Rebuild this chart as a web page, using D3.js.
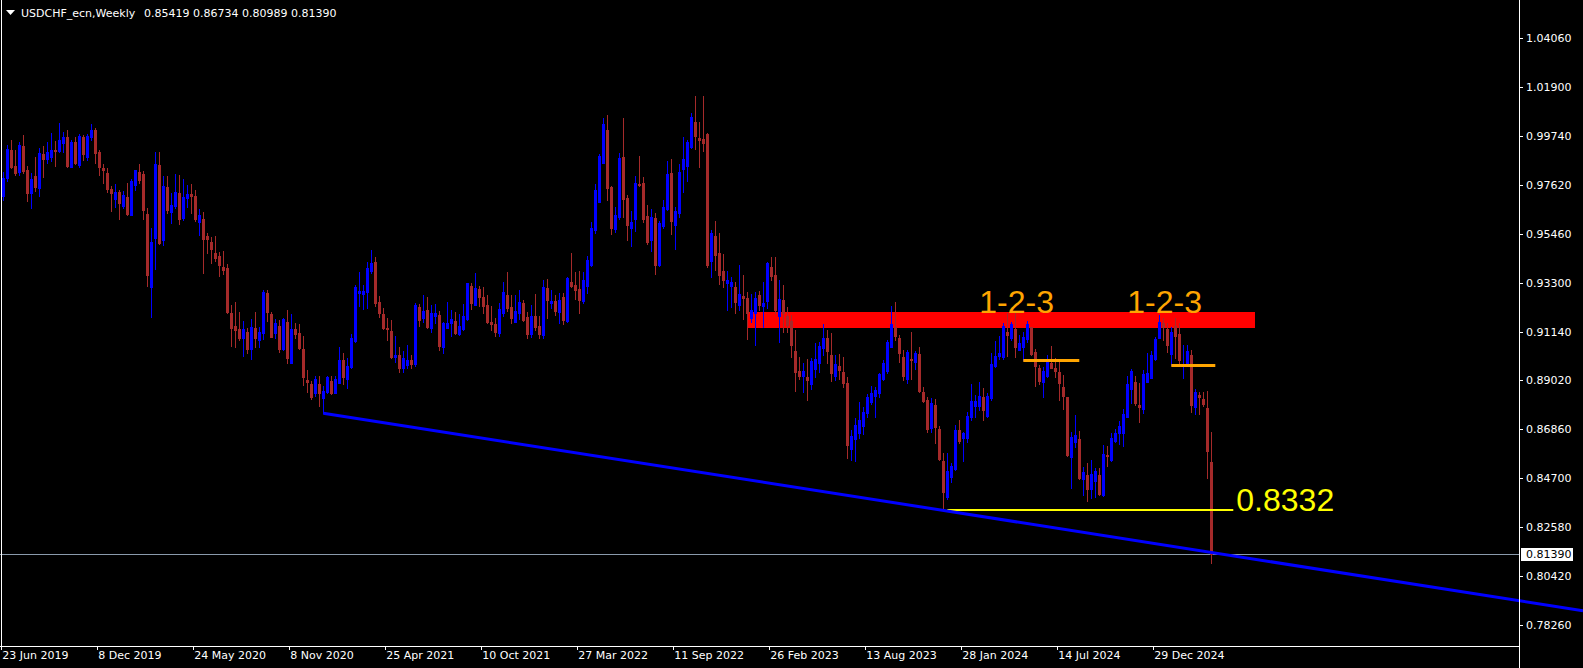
<!DOCTYPE html>
<html><head><meta charset="utf-8">
<script src="https://cdn.jsdelivr.net/npm/d3@7"></script>
<style>
html,body{margin:0;padding:0;background:#000;overflow:hidden}
svg{display:block}
</style></head><body>
<svg id="c" width="1583" height="668"></svg>
<script>
// ---------------- DATA ----------------
const symbolTitle = "USDCHF_ecn,Weekly";
const headerValues = ["0.85419", "0.86734", "0.80989", "0.81390"];
const firstWeek = "2019-06-23";   // weekly bars, one per week from this Sunday
const opens = [
0.9712,0.9792,0.9914,0.9844,0.9818,0.9931,0.9826,0.9726,0.9800,0.9747,
0.9896,0.9873,0.9883,0.9914,0.9910,0.9943,0.9970,0.9840,0.9949,0.9848,
0.9970,0.9884,0.9972,1.0002,0.9905,0.9833,0.9814,0.9742,0.9699,0.9729,
0.9668,0.9709,0.9628,0.9760,0.9818,0.9810,0.9633,0.9313,0.9528,0.9848,
0.9518,0.9753,0.9643,0.9668,0.9726,0.9614,0.9704,0.9720,0.9712,0.9599,
0.9611,0.9536,0.9509,0.9460,0.9448,0.9401,0.9395,0.9197,0.9140,0.9126,
0.9089,0.9115,0.9038,0.9133,0.9079,0.9108,0.9284,0.9193,0.9111,0.9140,
0.9039,0.9159,0.8979,0.9127,0.9108,0.9039,0.8903,0.8885,0.8844,0.8885,
0.8825,0.8851,0.8898,0.8844,0.8891,0.8991,0.8906,0.8959,0.9074,0.9284,
0.9280,0.9291,0.9383,0.9420,0.9247,0.9193,0.9133,0.9120,0.9003,0.9013,
0.8956,0.8969,0.8991,0.8973,0.9225,0.9177,0.9211,0.9133,0.9184,0.9189,
0.9047,0.9133,0.9152,0.9162,0.9105,0.9126,0.9170,0.9316,0.9233,0.9303,
0.9269,0.9233,0.9159,0.9149,0.9109,0.9199,0.9276,0.9225,0.9159,0.9196,
0.9243,0.9181,0.9105,0.9184,0.9140,0.9101,0.9307,0.9240,0.9250,0.9202,
0.9269,0.9162,0.9335,0.9320,0.9303,0.9250,0.9317,0.9408,0.9562,0.9687,
0.9858,1.0002,0.9750,0.9567,0.9621,0.9882,0.9704,0.9572,0.9609,0.9764,
0.9768,0.9624,0.9518,0.9614,0.9408,0.9581,0.9655,0.9811,0.9584,0.9638,
0.9829,0.9845,0.9928,1.0036,0.9968,0.9962,0.9984,0.9426,0.9536,0.9460,
0.9382,0.9328,0.9316,0.9313,0.9233,0.9273,0.9262,0.9174,0.9199,0.9276,
0.9229,0.9250,0.9401,0.9364,0.9185,0.9255,0.9184,0.9162,0.9030,0.8942,
0.8920,0.8917,0.8885,0.8951,0.8976,0.9045,0.9089,0.9013,0.8922,0.8966,
0.8937,0.8888,0.8598,0.8642,0.8671,0.8702,0.8757,0.8808,0.8833,0.8847,
0.8906,0.8944,0.9049,0.9137,0.9086,0.9003,0.8906,0.8995,0.8983,0.9017,
0.8851,0.8815,0.8693,0.8793,0.8686,0.8547,0.8390,0.8478,0.8510,0.8683,
0.8646,0.8649,0.8742,0.8789,0.8789,0.8830,0.8746,0.8825,0.8964,0.9008,
0.9005,0.9115,0.9086,0.9126,0.9035,0.9049,0.9082,0.9134,0.9025,0.8954,
0.8895,0.8920,0.8976,0.8954,0.8939,0.8871,0.8827,0.8566,0.8632,0.8644,
0.8468,0.8485,0.8424,0.8459,0.8485,0.8397,0.8573,0.8551,0.8635,0.8671,
0.8669,0.8742,0.8863,0.8894,0.8793,0.8774,0.8895,0.8913,0.8995,0.9089,
0.9155,0.9126,0.9016,0.9142,0.9104,0.8969,0.8972,0.9013,0.8786,0.8837,
0.8819,0.8779,0.85419];
const highs = [
0.9818,0.9936,0.9958,0.9914,0.9948,0.9980,0.9844,0.9811,0.9884,0.9921,
0.9931,0.9949,0.9987,0.9953,1.0031,0.9993,1.0002,0.9958,0.9972,0.9984,
0.9981,0.9984,1.0028,1.0009,0.9914,0.9852,0.9833,0.9756,0.9764,0.9738,
0.9734,0.9770,0.9785,0.9826,0.9852,0.9822,0.9658,0.9572,0.9905,0.9905,
0.9800,0.9800,0.9726,0.9808,0.9804,0.9785,0.9759,0.9764,0.9738,0.9655,
0.9640,0.9550,0.9533,0.9536,0.9467,0.9470,0.9413,0.9233,0.9246,0.9202,
0.9162,0.9133,0.9170,0.9203,0.9137,0.9298,0.9298,0.9202,0.9170,0.9167,
0.9177,0.9211,0.9193,0.9152,0.9149,0.9096,0.8947,0.8898,0.8922,0.8920,
0.8876,0.8922,0.8920,0.8922,0.9049,0.9023,0.8998,0.9105,0.9320,0.9379,
0.9320,0.9420,0.9474,0.9442,0.9272,0.9221,0.9174,0.9167,0.9096,0.9049,
0.9030,0.9057,0.9013,0.9243,0.9236,0.9276,0.9266,0.9233,0.9237,0.9206,
0.9159,0.9247,0.9211,0.9200,0.9193,0.9236,0.9331,0.9331,0.9372,0.9316,
0.9313,0.9276,0.9228,0.9175,0.9241,0.9335,0.9379,0.9276,0.9276,0.9298,
0.9255,0.9203,0.9233,0.9281,0.9184,0.9342,0.9347,0.9298,0.9276,0.9287,
0.9284,0.9354,0.9460,0.9376,0.9381,0.9376,0.9448,0.9596,0.9764,0.9896,
1.0053,1.0068,0.9756,0.9662,0.9899,1.0056,0.9716,0.9646,0.9800,0.9888,
0.9794,0.9672,0.9653,0.9638,0.9603,0.9694,0.9866,0.9874,0.9665,0.9851,
0.9972,0.9958,1.0078,1.0151,1.0038,1.0151,0.9990,0.9562,0.9603,0.9548,
0.9457,0.9383,0.9354,0.9335,0.9408,0.9364,0.9288,0.9281,0.9291,0.9294,
0.9335,0.9420,0.9442,0.9442,0.9342,0.9320,0.9222,0.9189,0.9123,0.9005,
0.8976,0.8994,0.8998,0.9064,0.9071,0.9148,0.9123,0.9108,0.9013,0.9017,
0.9003,0.8917,0.8683,0.8737,0.8808,0.8786,0.8841,0.8876,0.8871,0.8935,
0.8991,0.9079,0.9228,0.9244,0.9101,0.9035,0.9035,0.9113,0.9032,0.9049,
0.8873,0.8830,0.8822,0.8818,0.8701,0.8583,0.8581,0.8539,0.8705,0.8727,
0.8676,0.8761,0.8885,0.8837,0.8893,0.8866,0.8847,0.9020,0.9074,0.9096,
0.9152,0.9196,0.9159,0.9196,0.9101,0.9115,0.9164,0.9137,0.9038,0.8969,
0.8961,0.9013,0.9052,0.9001,0.8983,0.8925,0.8830,0.8673,0.8749,0.8679,
0.8520,0.8539,0.8551,0.8517,0.8517,0.8616,0.8613,0.8669,0.8686,0.8724,
0.8774,0.8920,0.8950,0.8920,0.8888,0.8947,0.9020,0.9030,0.9093,0.9189,
0.9174,0.9153,0.9137,0.9174,0.9153,0.9057,0.9057,0.9035,0.8862,0.8851,
0.8849,0.8856,0.86734];
const lows = [
0.9694,0.9778,0.9833,0.9804,0.9804,0.9811,0.9691,0.9660,0.9734,0.9713,
0.9797,0.9855,0.9866,0.9844,0.9906,0.9906,0.9840,0.9838,0.9852,0.9840,
0.9870,0.9870,0.9958,0.9858,0.9804,0.9770,0.9731,0.9646,0.9665,0.9611,
0.9660,0.9628,0.9626,0.9738,0.9768,0.9609,0.9316,0.9181,0.9389,0.9501,
0.9496,0.9636,0.9594,0.9658,0.9589,0.9606,0.9662,0.9638,0.9603,0.9540,
0.9372,0.9462,0.9418,0.9427,0.9361,0.9369,0.9199,0.9052,0.9049,0.9079,
0.9008,0.9023,0.8995,0.9049,0.9049,0.9083,0.9162,0.9092,0.9086,0.9027,
0.9035,0.8979,0.8978,0.9086,0.9038,0.8881,0.8851,0.8819,0.8833,0.8790,
0.8757,0.8844,0.8840,0.8844,0.8890,0.8885,0.8869,0.8954,0.9071,0.9228,
0.9214,0.9218,0.9372,0.9229,0.9178,0.9126,0.9079,0.8998,0.8982,0.8938,
0.8938,0.8956,0.8956,0.8964,0.9142,0.9159,0.9131,0.9113,0.9152,0.9035,
0.9020,0.9130,0.9096,0.9104,0.9101,0.9123,0.9167,0.9215,0.9231,0.9229,
0.9196,0.9152,0.9123,0.9096,0.9096,0.9184,0.9207,0.9155,0.9157,0.9171,
0.9162,0.9087,0.9092,0.9123,0.9087,0.9087,0.9174,0.9218,0.9189,0.9152,
0.9149,0.9160,0.9313,0.9258,0.9196,0.9240,0.9287,0.9406,0.9548,0.9685,
0.9857,0.9694,0.9545,0.9555,0.9609,0.9621,0.9518,0.9493,0.9558,0.9756,
0.9599,0.9501,0.9471,0.9369,0.9404,0.9572,0.9650,0.9545,0.9479,0.9621,
0.9731,0.9779,0.9921,0.9918,0.9840,0.9911,0.9398,0.9357,0.9386,0.9325,
0.9313,0.9211,0.9222,0.9199,0.9211,0.9170,0.9083,0.9159,0.9057,0.9211,
0.9137,0.9221,0.9342,0.9199,0.9071,0.9115,0.9115,0.9005,0.8855,0.8906,
0.8851,0.8815,0.8863,0.8917,0.8939,0.9013,0.8976,0.8900,0.8903,0.8907,
0.8873,0.8561,0.8551,0.8547,0.8647,0.8666,0.8742,0.8797,0.8742,0.8830,
0.8903,0.8932,0.9047,0.9079,0.8983,0.8903,0.8888,0.8906,0.8950,0.8851,
0.8808,0.8676,0.8676,0.8625,0.8551,0.8333,0.8378,0.8456,0.8507,0.8627,
0.8547,0.8632,0.8727,0.8742,0.8771,0.8727,0.8742,0.8815,0.8961,0.8994,
0.8994,0.9008,0.9079,0.9005,0.9033,0.8991,0.9071,0.9013,0.8876,0.8884,
0.8827,0.8917,0.8954,0.8917,0.8815,0.8775,0.8569,0.8430,0.8610,0.8468,
0.8397,0.8372,0.8383,0.8387,0.8397,0.8394,0.8526,0.8549,0.8632,0.8622,
0.8614,0.8740,0.8800,0.8793,0.8720,0.8757,0.8893,0.8910,0.8991,0.9086,
0.9079,0.9027,0.8969,0.8998,0.8969,0.8910,0.8969,0.8764,0.8753,0.8753,
0.8789,0.8473,0.80989];
const closes = [
0.9791,0.9917,0.9840,0.9814,0.9936,0.9822,0.9726,0.9786,0.9753,0.9899,
0.9876,0.9905,0.9914,0.9911,0.9958,0.9970,0.9844,0.9949,0.9855,0.9975,
0.9896,0.9975,1.0002,0.9902,0.9840,0.9826,0.9744,0.9726,0.9729,0.9682,
0.9716,0.9633,0.9778,0.9826,0.9782,0.9650,0.9364,0.9511,0.9852,0.9504,
0.9756,0.9650,0.9672,0.9729,0.9611,0.9706,0.9720,0.9712,0.9609,0.9628,
0.9523,0.9523,0.9479,0.9439,0.9408,0.9386,0.9203,0.9133,0.9123,0.9087,
0.9126,0.9039,0.9137,0.9089,0.9115,0.9291,0.9202,0.9093,0.9152,0.9039,
0.9171,0.9001,0.9127,0.9105,0.9042,0.8917,0.8895,0.8830,0.8906,0.8844,
0.8854,0.8915,0.8847,0.8907,0.8991,0.8917,0.8964,0.9089,0.9310,0.9294,
0.9294,0.9397,0.9416,0.9243,0.9199,0.9130,0.9127,0.9003,0.9013,0.8956,
0.9001,0.8991,0.8973,0.9233,0.9167,0.9206,0.9134,0.9199,0.9196,0.9052,
0.9152,0.9152,0.9170,0.9108,0.9140,0.9184,0.9328,0.9240,0.9309,0.9269,
0.9229,0.9159,0.9149,0.9114,0.9214,0.9288,0.9218,0.9177,0.9206,0.9246,
0.9167,0.9105,0.9184,0.9134,0.9105,0.9310,0.9255,0.9251,0.9207,0.9255,
0.9167,0.9350,0.9316,0.9298,0.9255,0.9342,0.9430,0.9572,0.9738,0.9888,
1.0028,0.9748,0.9572,0.9628,0.9880,0.9699,0.9584,0.9596,0.9768,0.9759,
0.9611,0.9511,0.9618,0.9408,0.9592,0.9662,0.9808,0.9603,0.9646,0.9816,
0.9873,0.9950,1.0058,0.9977,0.9958,0.9943,0.9408,0.9548,0.9452,0.9364,
0.9342,0.9342,0.9335,0.9247,0.9281,0.9262,0.9199,0.9211,0.9262,0.9233,
0.9240,0.9416,0.9360,0.9211,0.9258,0.9196,0.9145,0.9057,0.8939,0.8920,
0.8942,0.8903,0.8986,0.8995,0.9052,0.9089,0.9030,0.8935,0.8973,0.8947,
0.8891,0.8617,0.8657,0.8705,0.8727,0.8764,0.8827,0.8844,0.8859,0.8929,
0.8976,0.9071,0.9149,0.9096,0.9023,0.8922,0.9027,0.8991,0.9020,0.8855,
0.8812,0.8688,0.8800,0.8698,0.8556,0.8412,0.8503,0.8526,0.8683,0.8635,
0.8670,0.8746,0.8812,0.8811,0.8833,0.8771,0.8834,0.8972,0.9008,0.9020,
0.9142,0.9101,0.9148,0.9049,0.9064,0.9093,0.9149,0.9017,0.8966,0.8898,
0.8944,0.8983,0.8957,0.8944,0.8888,0.8833,0.8573,0.8651,0.8661,0.8473,
0.8499,0.8424,0.8490,0.8503,0.8400,0.8578,0.8570,0.8647,0.8669,0.8701,
0.8753,0.8885,0.8942,0.8800,0.8786,0.8929,0.8935,0.9013,0.9083,0.9158,
0.9137,0.9057,0.9115,0.9098,0.8991,0.8973,0.9030,0.8793,0.8849,0.8830,
0.8797,0.8592,0.81390];

const priceTicks = [1.04060,1.01900,0.99740,0.97620,0.95460,0.93300,0.91140,0.89020,0.86860,0.84700,0.82580,0.80420,0.78260];
const dateTicks = ["23 Jun 2019","8 Dec 2019","24 May 2020","8 Nov 2020","25 Apr 2021","10 Oct 2021","27 Mar 2022","11 Sep 2022","26 Feb 2023","13 Aug 2023","28 Jan 2024","14 Jul 2024","29 Dec 2024"];
const currentPrice = 0.81390;

// chart objects (time, price anchors)
const resistanceZone = {from:"2023-01-15", to:"2025-06-22", top:0.9202, bottom:0.9133};
const trendLine = {t1:"2021-01-03", p1:0.8757, t2:"2025-04-06", p2:0.8145};
const patternLabels = [{text:"1-2-3", t:"2024-02-25", p:0.9198},{text:"1-2-3", t:"2024-11-10", p:0.9198}];
const neckLines = [{t1:"2024-05-12", t2:"2024-08-18", p:0.8989},{t1:"2025-01-26", t2:"2025-04-13", p:0.8967}];
const supportLevel = {t1:"2023-12-31", t2:"2025-05-11", p:0.8332, label:"0.8332", labelT:"2025-05-18"};

// ---------------- LAYOUT / STYLE ----------------
if (!(opens.length===highs.length && highs.length===lows.length && lows.length===closes.length))
  throw new Error("length mismatch "+[opens.length,highs.length,lows.length,closes.length]);

const W=1583,H=668, plotR=1519, plotB=646;
const bull="#0000ff", bear="#a52a2a";
const font='"DejaVu Sans", Verdana, sans-serif';
const svg=d3.select("#c");
svg.append("rect").attr("width",W).attr("height",H).attr("fill","#000");

const pd=d3.utcParse("%Y-%m-%d");
const t0=pd(firstWeek);
const dates=opens.map((_,i)=>d3.utcDay.offset(t0,7*i));
const x=d3.scaleUtc().domain([t0,dates[dates.length-1]]).range([3.3,1211.3]);
const y=d3.scaleLinear().domain([0.7826,1.0406]).range([625,38.04]);

const defs=svg.append("defs");
defs.append("clipPath").attr("id","plot").append("rect").attr("x",0).attr("y",0).attr("width",plotR).attr("height",plotB);

const plot=svg.append("g").attr("clip-path","url(#plot)");

// zone (background object)
plot.append("rect")
  .attr("x",Math.floor(x(pd(resistanceZone.from))))
  .attr("y",Math.round(y(resistanceZone.top)))
  .attr("width",Math.floor(x(pd(resistanceZone.to)))-Math.floor(x(pd(resistanceZone.from))))
  .attr("height",Math.round(y(resistanceZone.bottom))-Math.round(y(resistanceZone.top)))
  .attr("fill","#ff0000");

// current price line
plot.append("line").attr("x1",0).attr("x2",plotR)
  .attr("y1",Math.round(y(currentPrice))+0.5).attr("y2",Math.round(y(currentPrice))+0.5)
  .attr("stroke","#8a9aab").attr("stroke-width",1);

// candles
const bars=dates.map((d,i)=>({d,o:opens[i],h:highs[i],l:lows[i],c:closes[i]}));
const cg=plot.append("g").attr("shape-rendering","crispEdges");
const cand=cg.selectAll("g").data(bars).join("g")
  .attr("fill",b=>b.c>b.o?bull:bear);
cand.append("rect")
  .attr("x",b=>Math.floor(x(b.d)))
  .attr("y",b=>Math.round(y(b.h)))
  .attr("width",1)
  .attr("height",b=>Math.max(1,Math.round(y(b.l))-Math.round(y(b.h))+1));
cand.append("rect")
  .attr("x",b=>Math.floor(x(b.d))-1)
  .attr("y",b=>Math.round(y(Math.max(b.o,b.c))))
  .attr("width",3)
  .attr("height",b=>Math.max(1,Math.round(y(Math.min(b.o,b.c)))-Math.round(y(Math.max(b.o,b.c)))+1));

// trend line (ray to the right)
const tx1=x(pd(trendLine.t1)), ty1=y(trendLine.p1), tx2=x(pd(trendLine.t2)), ty2=y(trendLine.p2);
const slope=(ty2-ty1)/(tx2-tx1);
svg.append("line").attr("x1",tx1).attr("y1",ty1).attr("x2",W).attr("y2",ty1+slope*(W-tx1))
  .attr("stroke","#0000ff").attr("stroke-width",3);

// neck lines
plot.selectAll(".neck").data(neckLines).join("line")
  .attr("x1",d=>x(pd(d.t1))).attr("x2",d=>x(pd(d.t2)))
  .attr("y1",d=>y(d.p)).attr("y2",d=>y(d.p))
  .attr("stroke","#ffa500").attr("stroke-width",3);

// support level
plot.append("line").attr("x1",x(pd(supportLevel.t1))).attr("x2",x(pd(supportLevel.t2))+2)
  .attr("y1",y(supportLevel.p)).attr("y2",y(supportLevel.p))
  .attr("stroke","#ffff00").attr("stroke-width",2);
plot.append("text").attr("x",x(pd(supportLevel.labelT))+1).attr("y",y(supportLevel.p)+1)
  .attr("fill","#ffff00").attr("font-family",'"Liberation Sans", Arial, sans-serif').attr("font-size",32)
  .text(supportLevel.label);

// pattern labels
plot.selectAll(".pl").data(patternLabels).join("text")
  .attr("x",d=>x(pd(d.t))).attr("y",d=>y(d.p))
  .attr("fill","#ffa500").attr("font-family",'"Liberation Sans", Arial, sans-serif').attr("font-size",32)
  .text(d=>d.text);

// frame
const fr=svg.append("g").attr("stroke","#ffffff").attr("stroke-width",1).attr("shape-rendering","crispEdges");
fr.append("line").attr("x1",1.5).attr("x2",1.5).attr("y1",0).attr("y2",plotB);
fr.append("line").attr("x1",0).attr("x2",plotR).attr("y1",plotB+0.5).attr("y2",plotB+0.5);
fr.append("line").attr("x1",plotR+0.5).attr("x2",plotR+0.5).attr("y1",0).attr("y2",H);

// price axis
const pa=svg.append("g");
pa.selectAll("line").data(priceTicks).join("line")
  .attr("x1",plotR).attr("x2",plotR+4)
  .attr("y1",d=>Math.round(y(d))+0.5).attr("y2",d=>Math.round(y(d))+0.5)
  .attr("stroke","#fff").attr("shape-rendering","crispEdges");
pa.selectAll("text").data(priceTicks).join("text")
  .attr("x",plotR+7).attr("y",d=>y(d)+4)
  .attr("fill","#fff").attr("font-family",font).attr("font-size",11)
  .text(d=>d3.format(".5f")(d));

// current price label
pa.append("rect").attr("x",plotR+2).attr("y",Math.round(y(currentPrice))-6).attr("width",52).attr("height",13).attr("fill","#fff");
pa.append("text").attr("x",plotR+7).attr("y",y(currentPrice)+4)
  .attr("fill","#000").attr("font-family",font).attr("font-size",11).text(d3.format(".5f")(currentPrice));

// time axis
const tp=d3.utcParse("%d %b %Y");
const ta=svg.append("g");
ta.selectAll("line").data(dateTicks).join("line")
  .attr("x1",d=>Math.floor(x(tp(d)))-1.5).attr("x2",d=>Math.floor(x(tp(d)))-1.5)
  .attr("y1",plotB).attr("y2",plotB+4)
  .attr("stroke","#fff").attr("shape-rendering","crispEdges");
ta.selectAll("text").data(dateTicks).join("text")
  .attr("x",d=>x(tp(d))-1).attr("y",plotB+13)
  .attr("fill","#fff").attr("font-family",font).attr("font-size",11)
  .text(d=>d);

// header
svg.append("path").attr("d","M6,10 L15,10 L10.5,15 Z").attr("fill","#fff");
svg.append("text").attr("x",21).attr("y",17).attr("fill","#fff").attr("font-family",font).attr("font-size",11)
  .text(symbolTitle);
svg.append("text").attr("x",144).attr("y",17).attr("fill","#fff").attr("font-family",font).attr("font-size",11)
  .attr("xml:space","preserve").text(headerValues.join(" "));
</script>
</body></html>
